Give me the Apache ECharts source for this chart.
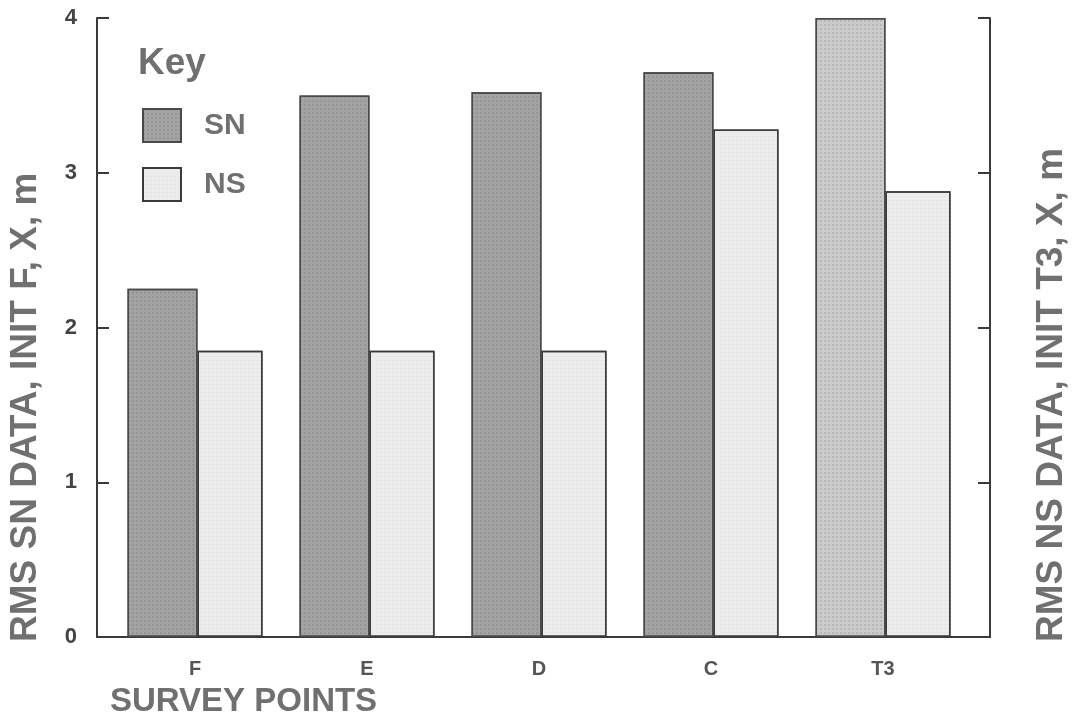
<!DOCTYPE html>
<html>
<head>
<meta charset="utf-8">
<script src="https://cdn.jsdelivr.net/npm/echarts@6/dist/echarts.min.js"></script>
<style>
  html, body { margin: 0; padding: 0; background: #fff; }
  #chart { width: 1081px; height: 728px; }
</style>
</head>
<body>
<div id="chart"></div>
<script>
// survey points along the x axis
const categories = ["F", "E", "D", "C", "T3"];
const snValues = [2.25, 3.5, 3.52, 3.65, 4.0];
const nsValues = [1.85, 1.85, 1.85, 3.28, 2.88];
const yTicks = [0, 1, 2, 3, 4];

const FONT = '"Liberation Sans", Arial, sans-serif';
const frameColor = "#3a3a3a";
const textGray = "#707070";

const snDecal = {
  symbol: "circle", symbolSize: 0.7, color: "rgba(60,60,60,0.35)",
  dashArrayX: [[2, 2]], dashArrayY: [2, 2]
};
const nsDecal = {
  symbol: "circle", symbolSize: 0.6, color: "rgba(80,80,80,0.45)",
  dashArrayX: [[1, 3]], dashArrayY: [1, 3]
};

const chart = echarts.init(document.getElementById("chart"), null, { renderer: "canvas" });

const yBase = {
  type: "value", min: 0, max: 4, interval: 1,
  splitLine: { show: false }
};

chart.setOption({
  animation: false,
  backgroundColor: "#fff",
  title: {
    text: "Key", left: 133, top: 40,
    textStyle: { fontFamily: FONT, fontSize: 37, fontWeight: "bold", color: textGray }
  },
  legend: {
    orient: "vertical", left: 137, top: 103,
    itemWidth: 38, itemHeight: 33, itemGap: 24, icon: "rect",
    textStyle: { fontFamily: FONT, fontSize: 30, fontWeight: "bold", color: textGray, padding: [0, 0, 0, 18] },
    data: ["SN", "NS"]
  },
  grid: [
    { left: 97, right: 91, top: 18, bottom: 91 },
    { left: 109, right: 112, top: 18, bottom: 91 }
  ],
  xAxis: [
    { gridIndex: 0, type: "category", data: [""], position: "bottom",
      axisLine: { lineStyle: { color: frameColor, width: 2 } },
      axisTick: { show: false }, axisLabel: { show: false } },
    { gridIndex: 0, type: "category", data: [""], position: "top",
      axisLine: { lineStyle: { color: frameColor, width: 2 } },
      axisTick: { show: false }, axisLabel: { show: false } },
    { gridIndex: 1, type: "category", data: categories,
      axisLine: { show: false }, axisTick: { show: false },
      axisLabel: { fontFamily: FONT, fontSize: 20, fontWeight: "bold", color: "#555", margin: 22 } }
  ],
  yAxis: [
    Object.assign({}, yBase, {
      gridIndex: 0, position: "left",
      axisLine: { show: true, lineStyle: { color: frameColor, width: 2 } },
      axisTick: { show: true, inside: true, length: 12, lineStyle: { color: frameColor, width: 2 } },
      axisLabel: {
        fontFamily: FONT, fontSize: 22, fontWeight: "bold", margin: 20,
        color: function (v) { return v === 4 ? "#111" : "#444"; },
        formatter: function (v) { return yTicks.indexOf(v) >= 0 ? String(v) : ""; }
      }
    }),
    Object.assign({}, yBase, {
      gridIndex: 0, position: "right",
      axisLine: { show: true, lineStyle: { color: frameColor, width: 2 } },
      axisTick: { show: true, inside: true, length: 12, lineStyle: { color: frameColor, width: 2 } },
      axisLabel: { show: false }
    }),
    Object.assign({}, yBase, { gridIndex: 1, show: false })
  ],
  graphic: [
    { type: "text", x: 26, y: 642, rotation: Math.PI / 2,
      style: { text: "RMS SN DATA, INIT F, X, m", font: "bold 37px " + FONT, fill: textGray,
               align: "left", verticalAlign: "middle" } },
    { type: "text", x: 1052, y: 642, rotation: Math.PI / 2,
      style: { text: "RMS NS DATA, INIT T3, X, m", font: "bold 37px " + FONT, fill: textGray,
               align: "left", verticalAlign: "middle" } },
    { type: "text", x: 110, y: 702,
      style: { text: "SURVEY POINTS", font: "bold 33px " + FONT, fill: textGray,
               align: "left", verticalAlign: "middle" } }
  ],
  series: [
    {
      name: "SN", type: "bar", xAxisIndex: 2, yAxisIndex: 2,
      barWidth: 70, barGap: "0%",
      itemStyle: { color: "#a3a3a3", borderColor: "#4a4a4a", borderWidth: 1.5, decal: snDecal },
      data: snValues.map(function (v, i) {
        return categories[i] === "T3" ? { value: v, itemStyle: { color: "#cbcbcb" } } : v;
      })
    },
    {
      name: "NS", type: "bar", xAxisIndex: 2, yAxisIndex: 2,
      barWidth: 65,
      itemStyle: { color: "#ececec", borderColor: "#3a3a3a", borderWidth: 1.5, decal: nsDecal },
      data: nsValues
    }
  ]
});
</script>
</body>
</html>
